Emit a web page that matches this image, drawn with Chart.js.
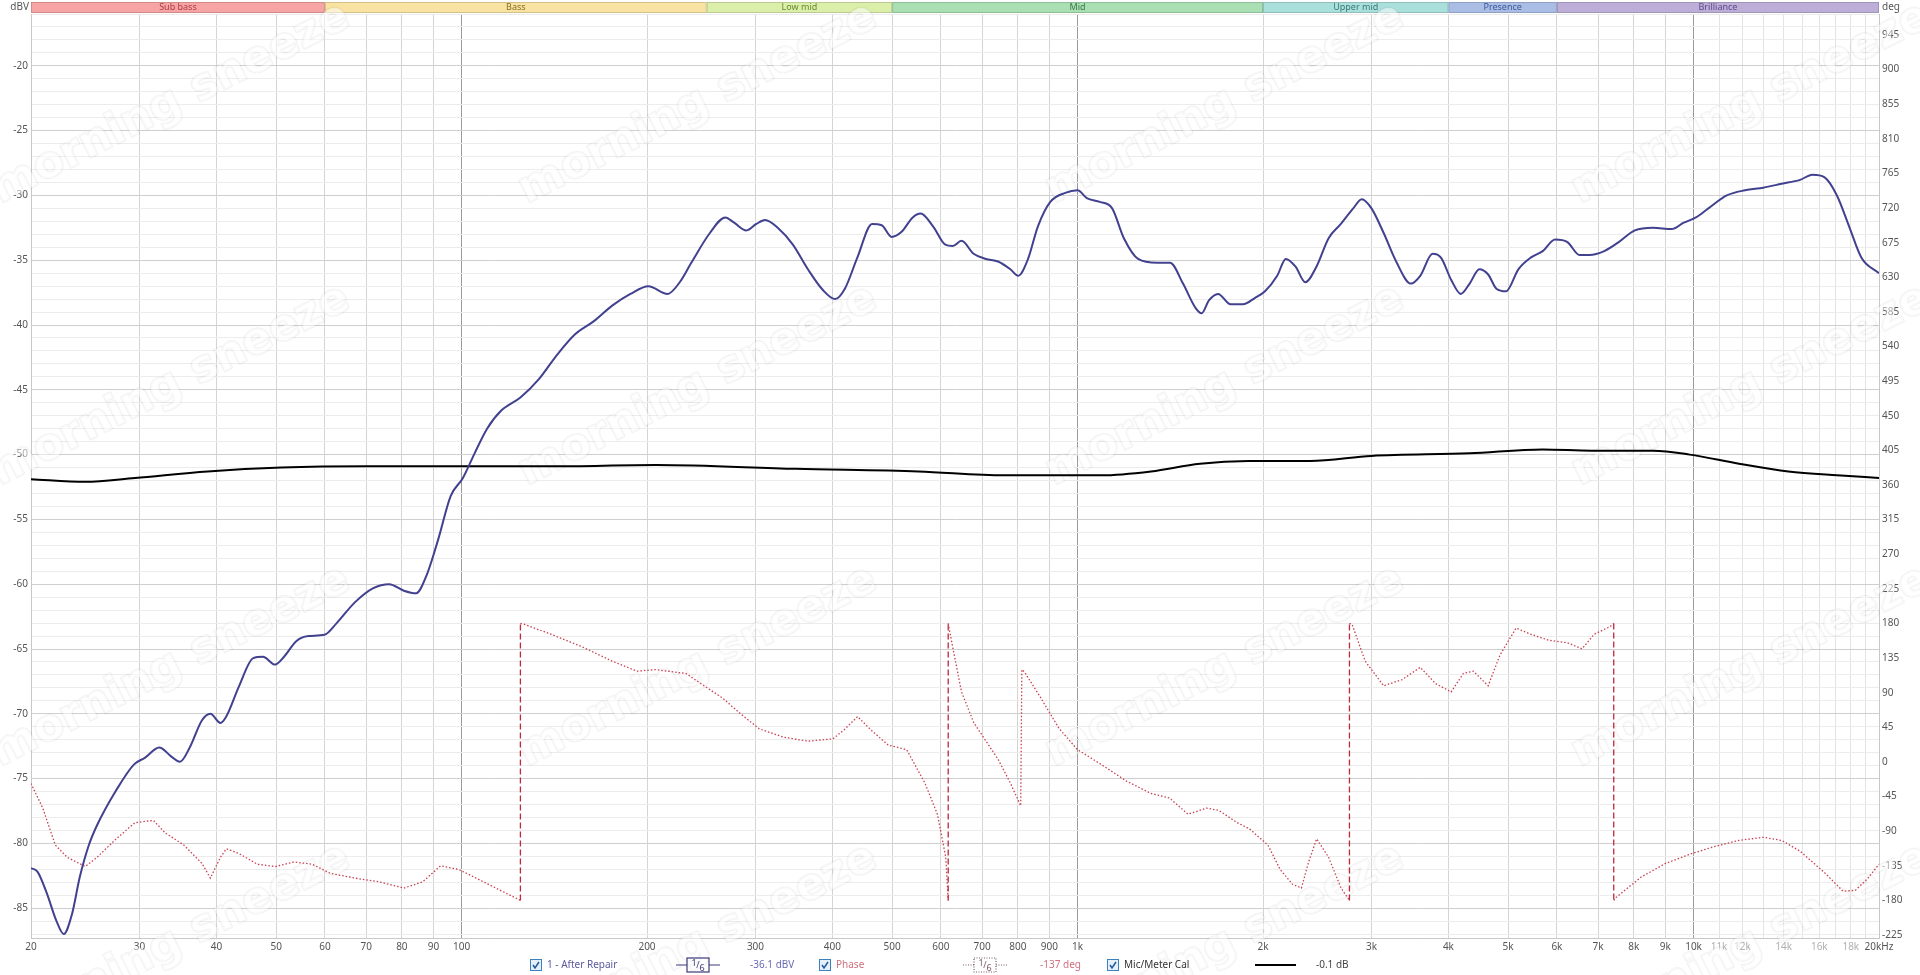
<!DOCTYPE html>
<html><head><meta charset="utf-8">
<script src="https://cdn.jsdelivr.net/npm/chart.js@4.4.0/dist/chart.umd.min.js"></script>
<style>html,body{margin:0;padding:0;background:#fff;overflow:hidden}canvas{display:block}</style>
</head><body>
<canvas id="c" width="1920" height="975" style="width:1920px;height:975px"></canvas>
<script>
// ---------- DATA ----------
const magFreq = [20,20.5,21.2,22,22.6,23.3,24,24.8,25.6,27.5,29.4,30.6,32.3,33.8,34.9,36.2,37.9,39.1,40.6,41.5,43.5,45.9,47.6,49.8,51.5,53.9,56.4,59.9,62.7,67.1,71.9,76.3,80.6,84.4,87.6,91.7,96,100.5,105,110,116,124.6,133.4,142.9,153,164,175.6,188,201,216,226,236,253,268,277,290,301,311,326,345,365,386,404,419,439,464,481,499,518,540,556,583,610,627,648,678,710,743,778,801,831,862,903,955,1000,1035,1087,1138,1189,1254,1347,1413,1483,1555,1590,1634,1691,1772,1855,1942,2015,2109,2178,2259,2343,2442,2556,2676,2802,2893,3000,3140,3290,3475,3600,3770,3890,4040,4190,4330,4490,4640,4786,4960,5195,5440,5690,5960,6240,6530,6780,7160,7560,8030,8600,9210,9640,10090,10570,11320,12120,12980,13900,14890,15590,16320,17090,17890,18730,20000];
const magDb = [-81.9,-82.2,-83.8,-86.0,-87.0,-85.5,-82.6,-80.2,-78.6,-75.9,-73.9,-73.4,-72.6,-73.3,-73.7,-72.6,-70.5,-70.0,-70.7,-70.2,-67.9,-65.7,-65.6,-66.2,-65.6,-64.4,-64.0,-63.9,-63.0,-61.4,-60.3,-60.0,-60.5,-60.7,-59.4,-56.5,-53.2,-51.8,-49.9,-48.0,-46.6,-45.6,-44.2,-42.3,-40.7,-39.7,-38.5,-37.6,-37.0,-37.6,-36.7,-35.2,-32.9,-31.7,-32.1,-32.7,-32.2,-31.9,-32.5,-33.8,-35.7,-37.3,-38.0,-37.2,-34.8,-32.2,-32.3,-33.2,-32.8,-31.7,-31.4,-32.4,-33.8,-33.9,-33.5,-34.5,-34.9,-35.1,-35.7,-36.2,-34.9,-32.4,-30.5,-29.8,-29.6,-30.2,-30.5,-31.0,-33.3,-34.9,-35.2,-35.2,-36.8,-38.7,-39.1,-38.1,-37.6,-38.4,-38.4,-37.9,-37.4,-36.2,-34.9,-35.5,-36.7,-35.5,-33.3,-32.2,-31.0,-30.3,-31.0,-32.9,-35.1,-36.8,-36.2,-34.5,-34.8,-36.5,-37.6,-36.8,-35.7,-36.1,-37.2,-37.4,-35.7,-34.8,-34.3,-33.4,-33.6,-34.6,-34.6,-34.3,-33.6,-32.7,-32.5,-32.6,-32.1,-31.7,-31.0,-30.0,-29.6,-29.4,-29.1,-28.8,-28.4,-28.6,-30.0,-32.4,-34.8,-36.0];

const phaseFreq = [20,20.9,21.9,22.9,24.5,25.6,27.5,29.5,31.6,33,35.4,37.9,39.1,40.6,41.5,43.5,46.6,49.9,53.4,57.2,61.3,67.1,73.6,80.6,86.4,92.5,99.1,108.6,119,124.6,124.6,126.3,139.7,156.6,175.6,192.6,206.3,215.9,231.3,247.6,265.3,284.2,304.4,333.7,365.7,400.9,419.5,439.4,459.9,492.5,527.8,565.6,592.2,611,616.6,616.6,627.8,648.1,678.4,710.2,743.5,778.4,808.5,812,820,872,934,1000,1096,1201,1316,1411,1511,1620,1696,1816,1901,2037,2133,2233,2309,2368,2444,2556,2677,2763,2763,2790,2930,3140,3365,3600,3810,4040,4230,4390,4640,4850,5150,5440,5830,6240,6590,6900,7320,7420,7420,7490,8210,9000,9860,10810,11850,12980,13900,14890,16320,17480,18300,19150,20000];
const phaseDeg = [-28,-60,-108,-124,-136,-124,-100,-79,-76,-92,-108,-132,-151,-124,-113,-119,-133,-136,-130,-133,-145,-151,-156,-164,-156,-135,-140,-156,-172,-180,180,179,166,150,131,118,120,118,115,99,83,62,43,32,27,30,43,59,43,22,16,-28,-68,-124,-180,180,147,91,51,27,3,-28,-57,120,117,83,43,16,-4,-25,-41,-47,-68,-60,-63,-79,-87,-108,-140,-159,-164,-132,-100,-124,-164,-180,180,179,131,99,107,123,102,91,115,118,99,139,174,166,158,155,147,166,176,180,-180,-176,-150,-132,-120,-110,-102,-98,-102,-116,-144,-168,-167,-152,-133];

const calFreq = [20,24.5,29.5,38.7,51,70.3,139.7,207,349,552,760,1093,1316,1580,1896,2384,3000,4330,5690,6830,8600,9860,11850,14250,17090,20000];
const calDb = [-51.9,-52.1,-51.8,-51.3,-51.0,-50.9,-50.9,-50.8,-51.1,-51.3,-51.6,-51.6,-51.3,-50.7,-50.5,-50.5,-50.1,-49.9,-49.6,-49.7,-49.7,-50.0,-50.7,-51.3,-51.6,-51.8];

const xTickValues = [20,30,40,50,60,70,80,90,100,200,300,400,500,600,700,800,900,1000,2000,3000,4000,5000,6000,7000,8000,9000,10000,11000,12000,13000,14000,15000,16000,17000,18000,19000,20000];
const xTickLabels = ['20','30','40','50','60','70','80','90','100','200','300','400','500','600','700','800','900','1k','2k','3k','4k','5k','6k','7k','8k','9k','10k','11k','12k','','14k','','16k','','18k','','20kHz'];
const yTickLabels = [-20,-25,-30,-35,-40,-45,-50,-55,-60,-65,-70,-75,-80,-85];
const degTickLabels = [945,900,855,810,765,720,675,630,585,540,495,450,405,360,315,270,225,180,135,90,45,0,-45,-90,-135,-180,-225];

const bandNames = ['Sub bass','Bass','Low mid','Mid','Upper mid','Presence','Brilliance'];
const bandEdges = [20,60,250,500,2000,4000,6000,20000];
const bandFill = ['#f6a4a4','#f8e3a2','#dcefaa','#a9dfb2','#aae0dc','#aabde4','#bdaed7'];
const bandText = ['#b03c48','#8a6e20','#6a8a2e','#3c7a4c','#3a7a7a','#3c5a9c','#5c4a8c'];

const legendItems = ['1 - After Repair','-36.1 dBV','Phase','-137 deg','Mic/Meter Cal','-0.1 dB'];

// ---------- CHART ----------
const FONT = '"Noto Sans", "Open Sans", sans-serif';
const toXY = (xs, ys) => xs.map((x, i) => ({x, y: ys[i]}));
const minorLabelSet = new Set([11000,12000,13000,14000,15000,16000,17000,18000,19000]);

const bandsPlugin = {
  id: 'bands',
  beforeDraw(chart) {
    const {ctx, chartArea: a} = chart;
    const xs = chart.scales.x;
    ctx.save();
    ctx.fillStyle = '#fff';
    ctx.fillRect(0, 0, chart.width, chart.height);
    for (let i = 0; i < bandNames.length; i++) {
      const x0 = xs.getPixelForValue(bandEdges[i]);
      const x1 = xs.getPixelForValue(bandEdges[i + 1]);
      ctx.fillStyle = bandFill[i];
      ctx.fillRect(x0, 2, x1 - x0, 11);
      ctx.strokeStyle = 'rgba(0,0,0,0.15)';
      ctx.lineWidth = 1;
      ctx.strokeRect(x0 + 0.5, 2.5, x1 - x0 - 1, 10);
      ctx.fillStyle = bandText[i];
      ctx.font = '9px ' + FONT;
      ctx.textAlign = 'center';
      ctx.textBaseline = 'middle';
      ctx.fillText(bandNames[i], (x0 + x1) / 2, 7.5);
    }
    ctx.fillStyle = '#555';
    ctx.font = '10px ' + FONT;
    ctx.textAlign = 'right';
    ctx.fillText('dBV', a.left - 2, 7);
    ctx.textAlign = 'left';
    ctx.fillText('deg', a.right + 3, 7);
    ctx.restore();
  },
  beforeDatasetsDraw(chart) {
    const {ctx} = chart;
    ctx.save();
    ctx.font = 'bold 44px "DejaVu Sans", sans-serif';
    ctx.textAlign = 'center';
    ctx.textBaseline = 'middle';
    ctx.lineWidth = 2.5;
    ctx.lineJoin = 'round';
    ctx.strokeStyle = 'rgba(0,0,0,0.045)';
    ctx.fillStyle = 'rgba(255,255,255,0.5)';
    const cols = [171, 698, 1225, 1751];
    const rows = [104, 386, 667, 945];
    for (const cy of rows) for (const cx of cols) {
      ctx.save();
      ctx.translate(cx, cy);
      ctx.rotate(-0.47);
      ctx.strokeText('morning sneeze', 0, 0);
      ctx.fillText('morning sneeze', 0, 0);
      ctx.restore();
    }
    ctx.restore();
  },
  afterDraw(chart) {
    const {ctx} = chart;
    const y = 965;
    ctx.save();
    ctx.font = '10px ' + FONT;
    ctx.textBaseline = 'middle';
    ctx.textAlign = 'left';
    function checkbox(x) {
      ctx.fillStyle = '#e6f0fa';
      ctx.fillRect(x, y - 6, 12, 12);
      ctx.strokeStyle = '#3d80c0';
      ctx.lineWidth = 1;
      ctx.strokeRect(x + 0.5, y - 5.5, 11, 11);
      ctx.strokeStyle = '#1d5a9a';
      ctx.lineWidth = 1.5;
      ctx.beginPath();
      ctx.moveTo(x + 3, y);
      ctx.lineTo(x + 5, y + 3);
      ctx.lineTo(x + 9, y - 3);
      ctx.stroke();
    }
    function sixthBox(cx, color, dotted) {
      ctx.save();
      ctx.strokeStyle = color;
      ctx.lineWidth = 1.2;
      if (dotted) ctx.setLineDash([1, 1.5]);
      ctx.beginPath();
      ctx.moveTo(cx - 22, y); ctx.lineTo(cx - 11, y);
      ctx.moveTo(cx + 11, y); ctx.lineTo(cx + 22, y);
      ctx.stroke();
      ctx.strokeRect(cx - 11, y - 7, 22, 14);
      ctx.restore();
      ctx.fillStyle = color;
      ctx.textAlign = 'center';
      ctx.font = '9px ' + FONT;
      ctx.fillText('1', cx - 4, y - 2);
      ctx.fillText('/', cx, y);
      ctx.fillText('6', cx + 4, y + 3);
      ctx.textAlign = 'left';
      ctx.font = '10px ' + FONT;
    }
    checkbox(530);
    ctx.fillStyle = '#5a5a9e';
    ctx.fillText(legendItems[0], 547, y);
    sixthBox(698, '#3a3a7a', false);
    ctx.fillStyle = '#6a6ab4';
    ctx.fillText(legendItems[1], 750, y);
    checkbox(819);
    ctx.fillStyle = '#d0707e';
    ctx.fillText(legendItems[2], 836, y);
    sixthBox(985, '#7a5a60', true);
    ctx.fillStyle = '#d0707e';
    ctx.fillText(legendItems[3], 1040, y);
    checkbox(1107);
    ctx.fillStyle = '#333';
    ctx.fillText(legendItems[4], 1124, y);
    ctx.strokeStyle = '#000';
    ctx.lineWidth = 2;
    ctx.beginPath(); ctx.moveTo(1255, y); ctx.lineTo(1296, y); ctx.stroke();
    ctx.fillStyle = '#444';
    ctx.fillText(legendItems[5], 1316, y);
    ctx.restore();
  }
};

new Chart(document.getElementById('c'), {
  type: 'line',
  data: {
    datasets: [
      {
        label: 'Mic/Meter Cal',
        data: toXY(calFreq, calDb),
        yAxisID: 'y',
        borderColor: '#000',
        borderWidth: 2,
        pointRadius: 0,
        cubicInterpolationMode: 'monotone',
        order: 3
      },
      {
        label: 'Phase',
        data: toXY(phaseFreq, phaseDeg),
        yAxisID: 'y2',
        borderColor: '#c8404f',
        borderWidth: 1.3,
        borderDash: [1.5, 2],
        pointRadius: 0,
        tension: 0,
        segment: {
          borderDash: c => Math.abs(c.p1.parsed.y - c.p0.parsed.y) > 300 ? [6, 3] : [1.5, 2],
          borderColor: c => Math.abs(c.p1.parsed.y - c.p0.parsed.y) > 300 ? '#c0283c' : '#c8404f'
        },
        order: 2
      },
      {
        label: '1 - After Repair',
        data: toXY(magFreq, magDb),
        yAxisID: 'y',
        borderColor: '#41418f',
        borderWidth: 2,
        pointRadius: 0,
        cubicInterpolationMode: 'monotone',
        order: 1
      }
    ]
  },
  options: {
    responsive: false,
    animation: false,
    devicePixelRatio: 1,
    layout: {padding: {top: 14, left: 0, right: 0, bottom: 0}},
    plugins: {legend: {display: false}, tooltip: {enabled: false}},
    scales: {
      x: {
        type: 'logarithmic',
        min: 20, max: 20000,
        afterBuildTicks: axis => { axis.ticks = xTickValues.map(v => ({value: v})); },
        afterFit: axis => { axis.height = 37; },
        ticks: {
          autoSkip: false, maxRotation: 0, minRotation: 0, padding: 3,
          font: {family: FONT, size: 10},
          color: c => minorLabelSet.has(c.tick && c.tick.value) ? '#b0b0b0' : '#555',
          callback: (v, i) => xTickLabels[i]
        },
        grid: {
          drawTicks: false,
          color: c => {
            const v = c.tick && c.tick.value;
            if (v === 100 || v === 1000 || v === 10000) return '#9a9a9a';
            if (minorLabelSet.has(v)) return '#e4e4e4';
            return '#d4d4d4';
          },
          lineWidth: 1
        },
        border: {color: '#c8c8c8'}
      },
      y: {
        position: 'left',
        min: -87.3, max: -16,
        afterBuildTicks: axis => {
          const t = [];
          for (let v = -87; v <= -16; v++) t.push({value: v});
          axis.ticks = t;
        },
        afterFit: axis => { axis.width = 31; },
        ticks: {
          autoSkip: false, padding: 3,
          font: {family: FONT, size: 10}, color: '#555',
          callback: v => yTickLabels.includes(v) ? String(v) : ''
        },
        grid: {
          drawTicks: false,
          color: c => yTickLabels.includes(c.tick && c.tick.value) ? '#cfcfcf' : '#ececec'
        },
        border: {color: '#c8c8c8'}
      },
      y2: {
        position: 'right',
        min: -228.9, max: 972.3,
        afterBuildTicks: axis => { axis.ticks = degTickLabels.map(v => ({value: v})); },
        afterFit: axis => { axis.width = 41; },
        ticks: {
          autoSkip: false, padding: 3,
          font: {family: FONT, size: 10}, color: '#555',
          callback: v => String(v)
        },
        grid: {drawOnChartArea: false, drawTicks: false},
        border: {color: '#c8c8c8'}
      }
    }
  },
  plugins: [bandsPlugin]
});
</script>
</body></html>
